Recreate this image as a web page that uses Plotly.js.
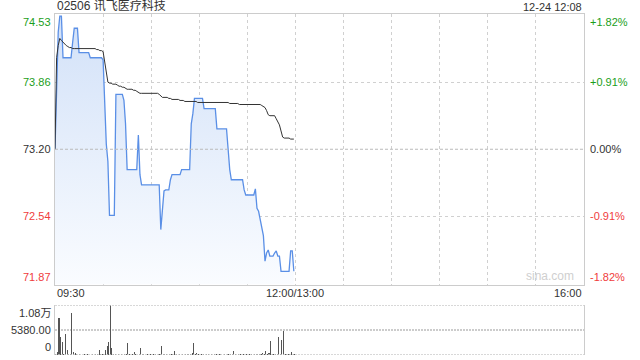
<!DOCTYPE html>
<html><head><meta charset="utf-8">
<script src="https://cdn.plot.ly/plotly-3.0.1.min.js"></script>
<style>html,body{margin:0;padding:0;background:#fff}#c{width:640px;height:360px}</style>
</head><body><div id="c"></div>
<script>
// minutes since 09:30 (lunch break compressed: 150 = 12:00/13:00)
const price = [
73.20,73.90,74.35,74.51,74.51,74.10,74.10,74.10,74.10,74.10,
74.10,74.25,74.39,74.39,74.39,74.15,74.15,74.15,74.15,74.15,
74.15,74.15,74.10,74.10,74.10,74.10,74.10,74.10,74.10,74.10,
74.08,73.70,73.25,73.08,72.55,72.55,72.55,72.55,73.74,73.74,
73.74,73.74,73.74,73.68,73.45,73.00,73.00,73.00,73.00,73.00,
73.00,73.00,73.34,72.95,72.85,72.85,72.85,72.85,72.85,72.85,
72.85,72.85,72.85,72.85,72.85,72.85,72.41,72.60,72.79,72.80,
72.80,72.80,72.90,72.95,72.95,72.95,72.95,72.95,72.95,73.00,
73.00,73.00,73.00,73.00,73.00,73.45,73.55,73.70,73.70,73.70,
73.70,73.70,73.70,73.60,73.60,73.60,73.60,73.60,73.60,73.60,
73.60,73.40,73.40,73.40,73.40,73.40,73.40,73.40,73.20,73.00,
72.90,72.90,72.90,72.90,72.90,72.90,72.90,72.90,72.80,72.75,
72.75,72.75,72.75,72.75,72.75,72.81,72.62,72.59,72.50,72.41,
72.35,72.10,72.18,72.21,72.15,72.15,72.15,72.18,72.20,72.15,
72.15,72.00,72.00,72.00,72.00,72.00,72.00,72.20,72.20,72.00];
const avgPrice = [
73.20,74.10,74.22,74.29,74.27,74.25,74.23,74.22,74.21,74.20,
74.20,74.19,74.19,74.19,74.19,74.19,74.19,74.19,74.19,74.19,
74.19,74.19,74.19,74.19,74.19,74.19,74.18,74.18,74.17,74.17,
74.16,74.05,73.92,73.86,73.85,73.85,73.84,73.84,73.84,73.83,
73.82,73.82,73.81,73.81,73.80,73.79,73.79,73.79,73.79,73.78,
73.78,73.77,73.76,73.75,73.75,73.75,73.75,73.75,73.75,73.75,
73.75,73.75,73.75,73.75,73.75,73.74,73.72,73.71,73.71,73.71,
73.71,73.70,73.70,73.69,73.69,73.69,73.69,73.69,73.68,73.68,
73.68,73.67,73.67,73.67,73.67,73.67,73.67,73.67,73.67,73.66,
73.66,73.66,73.66,73.66,73.66,73.66,73.66,73.66,73.66,73.66,
73.66,73.66,73.66,73.66,73.66,73.66,73.66,73.66,73.66,73.65,
73.65,73.65,73.65,73.65,73.65,73.64,73.64,73.64,73.64,73.64,
73.64,73.64,73.64,73.64,73.64,73.64,73.64,73.64,73.64,73.63,
73.62,73.61,73.58,73.54,73.53,73.53,73.53,73.53,73.50,73.47,
73.44,73.38,73.32,73.31,73.31,73.31,73.31,73.30,73.30,73.30];
const volume = [
300,700,7900,3900,2850,300,4600,1000,200,200,
9000,700,350,150,100,150,0,100,150,100,
150,0,100,150,100,200,150,1170,150,200,
300,1000,1900,2780,10760,1500,200,150,100,150,
0,150,100,200,150,2630,150,100,200,600,
150,100,200,1400,150,200,100,150,0,150,
100,200,150,100,150,300,1900,300,150,200,
100,150,200,150,880,150,100,200,0,150,
100,150,200,150,200,400,2500,200,400,150,
100,200,150,100,150,200,100,150,100,200,
150,100,150,200,100,150,100,150,200,150,
200,880,150,100,150,200,100,150,0,150,
100,200,150,100,150,200,150,300,200,500,
200,880,300,400,3000,200,150,200,300,3900,
300,3160,5200,200,150,200,150,660,200,150];
const priceTicks = [74.53, 73.86, 73.20, 72.54, 71.87];
const pctTicks = ['+1.82%', '+0.91%', '0.00%', '-0.91%', '-1.82%'];
const volTicks = [10760, 5380, 0];
const volTickText = ['1.08万', '5380.00', '0'];
const timeTicks = [0, 150, 330];
const timeTickText = ['09:30', '12:00/13:00', '16:00'];
const prevClose = 73.20;

const minutes = price.map((_, i) => i);
const FONT = 'Liberation Sans, Arial, Noto Sans CJK SC, sans-serif';
const GREEN = '#1a9e1a', RED = '#f03c3c', DARK = '#333';
const colorFor = v => v > prevClose + 1e-9 ? GREEN : (v < prevClose - 1e-9 ? RED : DARK);

const traces = [
  {x: minutes, y: minutes.map(() => priceTicks[4]), mode: 'lines', line: {width: 0}, hoverinfo: 'skip', showlegend: false},
  {x: minutes, y: price, mode: 'lines', fill: 'tonexty',
   line: {color: '#5a8fe6', width: 1.3},
   fillgradient: {type: 'vertical', colorscale: [[0, 'rgba(250,252,255,1)'], [1, 'rgba(210,225,248,1)']]},
   showlegend: false},
  {x: minutes, y: avgPrice, mode: 'lines', line: {color: '#333', width: 1}, showlegend: false},
  {x: minutes, y: volume, type: 'bar', xaxis: 'x2', yaxis: 'y2', marker: {color: '#555', line: {width: 0}}, width: 0.65, showlegend: false}
];

const annotations = [];
priceTicks.forEach((v, i) => {
  const ya = i === 0 ? 'top' : (i === priceTicks.length - 1 ? 'bottom' : 'middle');
  annotations.push({xref: 'paper', yref: 'y', x: 0, y: v, xanchor: 'right', yanchor: ya, xshift: -2,
    text: v.toFixed(2), showarrow: false, font: {family: FONT, size: 11, color: colorFor(v)}});
  annotations.push({xref: 'paper', yref: 'y', x: 1, y: v, xanchor: 'left', yanchor: ya, xshift: 4,
    text: pctTicks[i], showarrow: false, font: {family: FONT, size: 11, color: colorFor(v)}});
});
volTicks.forEach((v, i) => {
  const ya = i === 0 ? 'top' : (i === volTicks.length - 1 ? 'bottom' : 'middle');
  annotations.push({xref: 'paper', yref: 'y2', x: 0, y: v, xanchor: 'right', yanchor: ya, xshift: -2,
    text: volTickText[i], showarrow: false, font: {family: FONT, size: 11, color: DARK}});
});
timeTicks.forEach((t, i) => {
  annotations.push({xref: 'x', yref: 'paper', x: t, y: 0.182, xanchor: i === 0 ? 'left' : (i === 2 ? 'right' : 'center'),
    yanchor: 'middle', text: timeTickText[i], showarrow: false, font: {family: FONT, size: 11, color: DARK}});
});
annotations.push({xref: 'paper', yref: 'paper', x: 0, y: 1.0, xanchor: 'left', yanchor: 'bottom', yshift: -1,
  text: '02506 讯飞医疗科技', showarrow: false, font: {family: FONT, size: 12, color: DARK}});
annotations.push({xref: 'paper', yref: 'paper', x: 1, y: 1.0, xanchor: 'right', yanchor: 'bottom', yshift: -1,
  text: '12-24 12:08', showarrow: false, font: {family: FONT, size: 11, color: DARK}});
annotations.push({xref: 'paper', yref: 'y', x: 0.985, y: priceTicks[4], xanchor: 'right', yanchor: 'bottom', yshift: 0,
  text: 'sina.com', showarrow: false, font: {family: FONT, size: 12, color: '#cfcfcf'}});

const layout = {
  width: 640, height: 360,
  margin: {l: 55, r: 56, t: 14, b: 5},
  paper_bgcolor: '#fff', plot_bgcolor: '#fff',
  showlegend: false,
  bargap: 0,
  xaxis: {domain: [0, 1], range: [0, 330], tickvals: [30, 60, 90, 120, 150, 180, 210, 240, 270, 300],
    showticklabels: false, ticks: '', showgrid: true, gridcolor: '#d0d0d0', griddash: 'dot', gridwidth: 1,
    showline: true, mirror: true, linecolor: '#cccccc', linewidth: 1, zeroline: false, fixedrange: true, anchor: 'y'},
  yaxis: {domain: [0.2067, 1], range: [priceTicks[4], priceTicks[0]], tickvals: [73.86, 72.54],
    showticklabels: false, ticks: '', showgrid: true, gridcolor: '#d0d0d0', griddash: 'dot', gridwidth: 1,
    showline: true, mirror: true, linecolor: '#cccccc', linewidth: 1, zeroline: false, fixedrange: true},
  xaxis2: {domain: [0, 1], range: [-0.5, 329.5], showticklabels: false, ticks: '', showgrid: false,
    showline: false, zeroline: false, anchor: 'y2'},
  yaxis2: {domain: [0, 0.1466], range: [0, 10760], tickvals: [5380], showticklabels: false, ticks: '',
    showgrid: true, gridcolor: '#cccccc', griddash: '2px,1px', gridwidth: 1.5,
    showline: true, mirror: true, linecolor: '#cccccc', linewidth: 1, zeroline: false},
  shapes: [
    {type: 'line', xref: 'paper', yref: 'y', x0: 0, x1: 1, y0: prevClose, y1: prevClose,
     line: {color: '#bbbbbb', width: 1, dash: '3px,2px'}},
    {type: 'line', xref: 'paper', yref: 'y2', x0: 0, x1: 1, y0: 10760, y1: 10760,
     line: {color: '#cccccc', width: 1.5, dash: '2px,1px'}},
    {type: 'line', xref: 'paper', yref: 'y2', x0: 0, x1: 1, y0: 0, y1: 0,
     line: {color: '#cccccc', width: 1.5, dash: '2px,1px'}}
  ],
  annotations: annotations
};
Plotly.newPlot('c', traces, layout, {staticPlot: true, displayModeBar: false});
</script></body></html>
